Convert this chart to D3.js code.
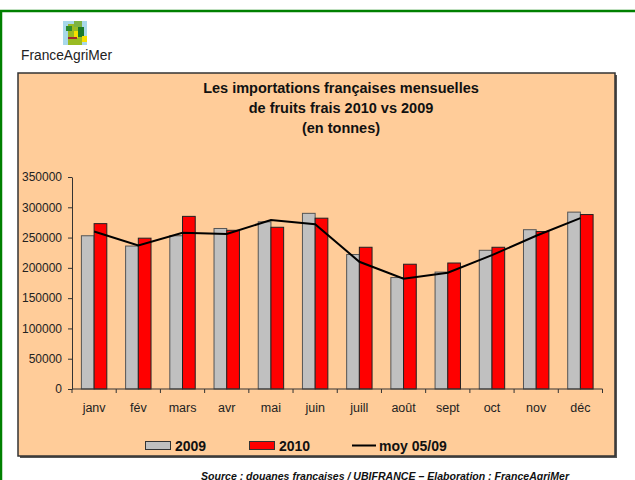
<!DOCTYPE html>
<html>
<head>
  <meta charset="utf-8">
  <script src="https://d3js.org/d3.v7.min.js"></script>
  <style>
    body { margin: 0; background: #fff; }
    text { font-family: "Liberation Sans", Arial, sans-serif; }
  </style>
</head>
<body>
  <svg width="635" height="480"></svg>
  <script>
    // months and series (tonnes)
    var months = ["janv", "fév", "mars", "avr", "mai", "juin", "juill", "août", "sept", "oct", "nov", "déc"];
    var y2009 = [253000, 236000, 253000, 265000, 276000, 290000, 222000, 184000, 193000, 229000, 263000, 292000];
    var y2010 = [273000, 249000, 285000, 262000, 267000, 282000, 234000, 206000, 208000, 234000, 260000, 288000];
    var moy0509 = [260000, 237000, 258000, 256000, 279000, 272000, 210000, 182000, 192000, 221000, 253000, 282000];
    var yTicks = [0, 50000, 100000, 150000, 200000, 250000, 300000, 350000];
    var titleLines = ["Les importations françaises mensuelles", "de fruits frais 2010 vs 2009", "(en tonnes)"];

    var svg = d3.select("svg");

    // green page frame
    svg.append("line").attr("x1", 0).attr("x2", 635).attr("y1", 11).attr("y2", 11)
      .attr("stroke", "#008000").attr("stroke-width", 2.5);
    svg.append("line").attr("x1", 1).attr("x2", 1).attr("y1", 10).attr("y2", 480)
      .attr("stroke", "#008000").attr("stroke-width", 2.5);

    // logo
    var logo = svg.append("g").attr("transform", "translate(63,21)");
    logo.append("rect").attr("width", 24).attr("height", 24).attr("fill", "#a8d8ea");
    logo.append("rect").attr("x", 5).attr("y", 3).attr("width", 14).attr("height", 21).attr("fill", "#99bb22");
    logo.append("rect").attr("x", 11).attr("y", 0).attr("width", 8).attr("height", 6).attr("fill", "#7cb342");
    logo.append("rect").attr("x", 3).attr("y", 5).attr("width", 6).attr("height", 5).attr("fill", "#2e8b2e");
    logo.append("rect").attr("x", 15).attr("y", 6).attr("width", 6).attr("height", 10).attr("fill", "#1b7a2a");
    logo.append("rect").attr("x", 11).attr("y", 10).attr("width", 4).attr("height", 7).attr("fill", "#f5e000");
    logo.append("rect").attr("x", 19).attr("y", 15).attr("width", 5).attr("height", 6).attr("fill", "#f5e000");
    logo.append("rect").attr("x", 5).attr("y", 16).attr("width", 9).attr("height", 2).attr("fill", "#a0282a");
    svg.append("text").attr("x", 21).attr("y", 60).attr("font-size", 14)
      .attr("textLength", 91).attr("lengthAdjust", "spacingAndGlyphs")
      .attr("fill", "#222").text("FranceAgriMer");

    // chart area
    svg.append("rect").attr("x", 20).attr("y", 75).attr("width", 597).attr("height", 383).attr("fill", "#555");
    svg.append("rect").attr("x", 18).attr("y", 73).attr("width", 597).attr("height", 383)
      .attr("fill", "#FFCC99").attr("stroke", "#333").attr("stroke-width", 1.5);

    svg.append("g").selectAll("text").data(titleLines).enter().append("text")
      .attr("x", 341).attr("y", function(d, i) { return 88 + i * 20; })
      .attr("dy", "0.35em").attr("text-anchor", "middle")
      .attr("font-size", 14.5).attr("font-weight", "bold").attr("fill", "#111")
      .text(function(d) { return d; });

    var x = d3.scaleBand().domain(months).range([72, 602.5]);
    var x1 = d3.scaleBand().domain(["2009", "2010"]).range([0, x.bandwidth()])
      .paddingInner(0).paddingOuter(0.74);
    var y = d3.scaleLinear().domain([0, 350000]).range([389, 177]);

    // y axis
    var yAxis = svg.append("g").attr("transform", "translate(72,0)")
      .call(d3.axisLeft(y).tickValues(yTicks).tickSize(4).tickSizeOuter(0).tickPadding(6)
        .tickFormat(function(d) { return d; }));
    yAxis.selectAll("text").attr("font-size", 12).attr("fill", "#222").style("font-family", "Liberation Sans, Arial");
    yAxis.selectAll("line,path").attr("stroke", "#333");

    // bars
    var series = [{ key: "2009", values: y2009, fill: "#C0C0C0", stroke: "#555" },
                  { key: "2010", values: y2010, fill: "#FF0000", stroke: "#222" }];
    series.forEach(function(s) {
      svg.append("g").selectAll("rect").data(s.values).enter().append("rect")
        .attr("x", function(d, i) { return x(months[i]) + x1(s.key); })
        .attr("y", function(d) { return y(d); })
        .attr("width", x1.bandwidth())
        .attr("height", function(d) { return y(0) - y(d); })
        .attr("fill", s.fill).attr("stroke", s.stroke).attr("stroke-width", 1);
    });

    // x axis: ticks at band boundaries, labels at centres
    var bounds = months.map(function(m) { return x(m); }).concat([x.range()[1]]);
    var xAxis = svg.append("g");
    xAxis.append("line").attr("x1", 72).attr("x2", 602.5).attr("y1", 389).attr("y2", 389)
      .attr("stroke", "#333");
    xAxis.selectAll(".tk").data(bounds).enter().append("line")
      .attr("x1", function(d) { return d; }).attr("x2", function(d) { return d; })
      .attr("y1", 389).attr("y2", 393).attr("stroke", "#333");
    xAxis.selectAll("text").data(months).enter().append("text")
      .attr("x", function(d) { return x(d) + x.bandwidth() / 2; }).attr("y", 408)
      .attr("dy", "0.35em").attr("text-anchor", "middle").attr("font-size", 12.5).attr("fill", "#222")
      .text(function(d) { return d; });

    // average line
    var line = d3.line()
      .x(function(d, i) { return x(months[i]) + x.bandwidth() / 2; })
      .y(function(d) { return y(d); });
    svg.append("path").datum(moy0509).attr("d", line)
      .attr("fill", "none").attr("stroke", "#000").attr("stroke-width", 2);

    // legend
    var leg = svg.append("g");
    leg.append("rect").attr("x", 145.5).attr("y", 441.5).attr("width", 25).attr("height", 8)
      .attr("fill", "#C0C0C0").attr("stroke", "#333");
    leg.append("text").attr("x", 175).attr("y", 446).attr("dy", "0.35em")
      .attr("font-size", 14).attr("font-weight", "bold").attr("fill", "#111").text("2009");
    leg.append("rect").attr("x", 249.5).attr("y", 441.5).attr("width", 25).attr("height", 8)
      .attr("fill", "#FF0000").attr("stroke", "#333");
    leg.append("text").attr("x", 279).attr("y", 446).attr("dy", "0.35em")
      .attr("font-size", 14).attr("font-weight", "bold").attr("fill", "#111").text("2010");
    leg.append("line").attr("x1", 352).attr("x2", 376).attr("y1", 445.5).attr("y2", 445.5)
      .attr("stroke", "#000").attr("stroke-width", 2);
    leg.append("text").attr("x", 379).attr("y", 446).attr("dy", "0.35em")
      .attr("font-size", 14).attr("font-weight", "bold").attr("fill", "#111").text("moy 05/09");

    // source
    svg.append("text").attr("x", 201).attr("y", 476).attr("dy", "0.35em")
      .attr("font-size", 10).attr("font-weight", "bold").attr("font-style", "italic")
      .attr("textLength", 368).attr("lengthAdjust", "spacingAndGlyphs").attr("fill", "#111")
      .text("Source : douanes francaises / UBIFRANCE – Elaboration : FranceAgriMer");
  </script>
</body>
</html>
